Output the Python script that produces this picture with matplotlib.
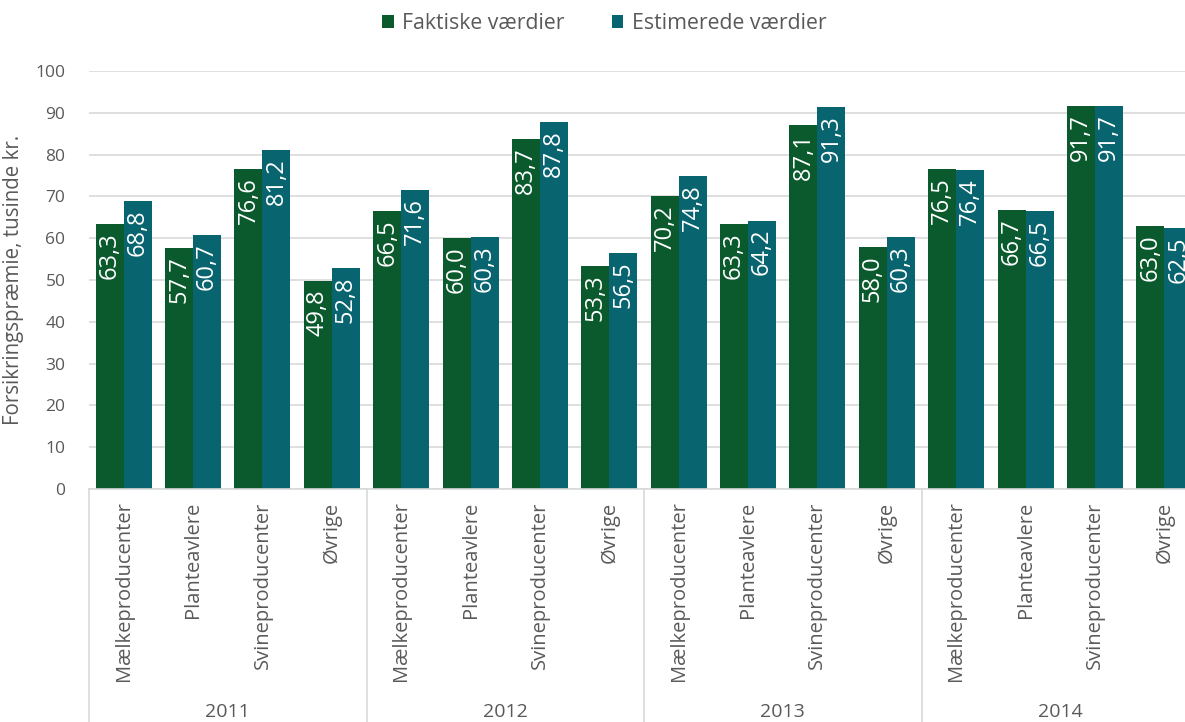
import numpy as np
import matplotlib.pyplot as plt
import matplotlib.transforms as mtransforms

plt.rcParams['font.family'] = ['Open Sans', 'DejaVu Sans']

years = ["2011", "2012", "2013", "2014"]
groups = ["Mælkeproducenter", "Planteavlere", "Svineproducenter", "Øvrige"]
faktiske = [63.3, 57.7, 76.6, 49.8,
            66.5, 60.0, 83.7, 53.3,
            70.2, 63.3, 87.1, 58.0,
            76.5, 66.7, 91.7, 63.0]
estimerede = [68.8, 60.7, 81.2, 52.8,
              71.6, 60.3, 87.8, 56.5,
              74.8, 64.2, 91.3, 60.3,
              76.4, 66.5, 91.7, 62.5]

green = "#0b5a2d"
teal = "#08646f"
grey = "#595959"
gridc = "#d9d9d9"

fig = plt.figure(figsize=(11.85, 7.22), dpi=100)
# plot area runs a bit past the right edge of the figure
ax = fig.add_axes([89 / 1185, 233 / 722, 1110 / 1185, 418 / 722])

n = len(faktiske)
x = np.arange(n) + 0.5
w = 0.403
b1 = ax.bar(x - w / 2, faktiske, w, color=green, label="Faktiske værdier", zorder=2)
b2 = ax.bar(x + w / 2, estimerede, w, color=teal, label="Estimerede værdier", zorder=2)

def fmt(v):
    return f"{v:.1f}".replace(".", ",")

for bars, vals in ((b1, faktiske), (b2, estimerede)):
    for r, v in zip(bars, vals):
        ax.annotate(fmt(v), (r.get_x() + r.get_width() / 2, v),
                    xytext=(0, -6), textcoords="offset points",
                    rotation=90, ha="center", va="top",
                    color="white", fontsize=17, zorder=3)

ax.set_xlim(0, n)
ax.set_ylim(0, 100)
ax.set_yticks(np.arange(0, 101, 10))
ax.yaxis.grid(True, color=gridc, lw=1.2, zorder=0)
ax.set_xticks([])
ax.tick_params(axis="y", length=0, labelsize=12.5, labelcolor=grey, pad=17)
for s in ("top", "right", "left"):
    ax.spines[s].set_visible(False)
ax.spines["bottom"].set_color(gridc)
ax.spines["bottom"].set_linewidth(1.2)

ax.set_ylabel("Forsikringspræmie, tusinde kr.", fontsize=14.8, color=grey, labelpad=8)

trans = mtransforms.blended_transform_factory(ax.transData, ax.transAxes)
for i in range(n):
    ax.text(x[i], -0.03, groups[i % 4], transform=trans, rotation=90,
            ha="center", va="top", fontsize=14.5, color=grey, clip_on=False)
for k, yr in enumerate(years):
    ax.text(4 * k + 2, -0.533, yr, transform=trans, ha="center", va="center",
            fontsize=14, color=grey, clip_on=False)
    ax.plot([4 * k, 4 * k], [0, -0.6], transform=trans, color=gridc,
            lw=1.2, clip_on=False)

fig.legend(loc="upper center", bbox_to_anchor=(0.51, 1.008), ncol=2, frameon=False,
           fontsize=15.3, handlelength=0.55, handleheight=0.55, handletextpad=0.4,
           columnspacing=2.2, labelcolor=grey)

fig.savefig("out.png", dpi=100)
